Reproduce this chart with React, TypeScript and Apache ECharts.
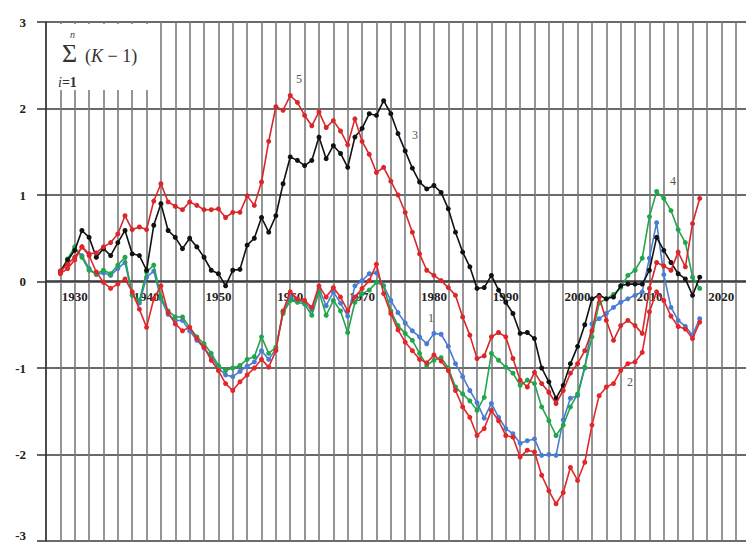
import React, { useEffect, useRef } from "react";
import * as echarts from "echarts";

const startYear = 1928;
const years: number[] = Array.from({ length: 90 }, (_, i) => startYear + i);

const s1Blue: number[] = [
  0.10, 0.22, 0.38, 0.30, 0.15, 0.08, 0.10, 0.07, 0.15, 0.22,
  -0.15, -0.25, 0.05, 0.12, -0.20, -0.38, -0.45, -0.45, -0.57, -0.68,
  -0.77, -0.87, -1.00, -1.08, -1.10, -1.04, -0.98, -0.93, -0.80, -0.90,
  -0.78, -0.35, -0.18, -0.22, -0.24, -0.33, -0.08, -0.28, -0.12, -0.25,
  -0.40, -0.05, 0.01, 0.09, 0.10, -0.05, -0.22, -0.36, -0.48, -0.57,
  -0.64, -0.72, -0.60, -0.61, -0.75, -0.95, -1.10, -1.26, -1.40, -1.58,
  -1.41, -1.57, -1.70, -1.76, -1.87, -1.84, -1.82, -2.01, -2.00, -2.01,
  -1.60, -1.35, -1.32, -1.00, -0.49, -0.43, -0.37, -0.30, -0.24, -0.20,
  -0.16, -0.12, 0.27, 0.68, 0.08, -0.30, -0.45, -0.52, -0.62, -0.43,
];

const s2Red: number[] = [
  0.09, 0.15, 0.25, 0.40, 0.30, 0.11, -0.01, -0.08, -0.03, 0.03,
  -0.12, -0.32, -0.53, -0.20, -0.05, -0.36, -0.49, -0.57, -0.53, -0.66,
  -0.76, -0.91, -1.03, -1.18, -1.26, -1.16, -1.08, -1.00, -0.90, -0.99,
  -0.80, -0.34, -0.12, -0.20, -0.22, -0.30, -0.05, -0.18, -0.07, -0.18,
  -0.34, -0.18, -0.08, 0.01, 0.20, -0.14, -0.37, -0.56, -0.70, -0.80,
  -0.90, -0.94, -0.85, -0.92, -1.03, -1.26, -1.45, -1.57, -1.78, -1.70,
  -1.49, -1.61, -1.78, -1.80, -2.03, -1.95, -1.97, -2.24, -2.42, -2.57,
  -2.44, -2.15, -2.30, -2.09, -1.66, -1.32, -1.22, -1.18, -1.03, -0.95,
  -0.93, -0.82, -0.35, -0.12, -0.22, -0.40, -0.52, -0.55, -0.66, -0.47,
];

const s3Black: number[] = [
  0.12, 0.25, 0.36, 0.59, 0.51, 0.28, 0.38, 0.30, 0.45, 0.59,
  0.32, 0.30, 0.13, 0.65, 0.90, 0.59, 0.51, 0.38, 0.50, 0.40,
  0.28, 0.13, 0.09, -0.05, 0.13, 0.14, 0.42, 0.50, 0.74, 0.57,
  0.76, 1.13, 1.44, 1.40, 1.34, 1.40, 1.67, 1.42, 1.57, 1.48,
  1.32, 1.67, 1.77, 1.94, 1.92, 2.09, 1.94, 1.71, 1.51, 1.31,
  1.15, 1.07, 1.11, 1.03, 0.84, 0.57, 0.34, 0.17, -0.08, -0.07,
  0.07, -0.10, -0.24, -0.37, -0.60, -0.59, -0.66, -1.00, -1.16, -1.35,
  -1.20, -0.95, -0.75, -0.50, -0.20, -0.16, -0.20, -0.18, -0.05, -0.03,
  -0.03, -0.03, 0.13, 0.51, 0.36, 0.22, 0.09, 0.03, -0.16, 0.05,
];

const s4Green: number[] = [
  0.10, 0.26, 0.40, 0.28, 0.13, 0.09, 0.13, 0.09, 0.19, 0.28,
  -0.16, -0.22, 0.11, 0.19, -0.18, -0.34, -0.41, -0.41, -0.53, -0.64,
  -0.72, -0.83, -0.97, -1.03, -1.00, -0.97, -0.90, -0.87, -0.64, -0.83,
  -0.76, -0.37, -0.22, -0.24, -0.26, -0.39, -0.12, -0.39, -0.22, -0.34,
  -0.59, -0.24, -0.14, -0.10, -0.01, -0.05, -0.34, -0.51, -0.60, -0.68,
  -0.83, -0.97, -0.91, -0.88, -1.00, -1.22, -1.30, -1.38, -1.49, -1.34,
  -0.83, -0.91, -0.99, -1.06, -1.20, -1.14, -1.18, -1.45, -1.61, -1.78,
  -1.66, -1.45, -1.30, -0.99, -0.64, -0.25, -0.20, -0.15, -0.07, 0.07,
  0.13, 0.27, 0.75, 1.04, 0.96, 0.82, 0.60, 0.45, 0.05, -0.08,
];

const s5Red: number[] = [
  0.12, 0.20, 0.28, 0.40, 0.32, 0.33, 0.40, 0.45, 0.55, 0.76,
  0.60, 0.63, 0.60, 0.93, 1.13, 0.92, 0.87, 0.83, 0.92, 0.88,
  0.83, 0.83, 0.84, 0.74, 0.80, 0.80, 0.99, 0.88, 1.15, 1.62,
  2.02, 1.98, 2.15, 2.07, 1.92, 1.80, 1.96, 1.78, 1.86, 1.74,
  1.58, 1.88, 1.62, 1.47, 1.26, 1.32, 1.16, 1.00, 0.80, 0.57,
  0.32, 0.13, 0.07, 0.01, -0.07, -0.16, -0.41, -0.62, -0.89, -0.86,
  -0.64, -0.59, -0.64, -0.89, -1.14, -1.22, -1.05, -1.18, -1.28, -1.41,
  -1.26, -1.06, -0.95, -0.80, -0.57, -0.18, -0.45, -0.68, -0.51, -0.45,
  -0.51, -0.60, -0.08, 0.22, 0.18, 0.13, 0.34, 0.17, 0.67, 0.96,
];

const yTicks = [-3, -2, -1, 0, 1, 2, 3];
const seriesLabels = ["1", "2", "3", "4", "5"];

const SERIF = "'Liberation Serif', 'DejaVu Serif', serif";

function mk(name: string, vals: number[], color: string, z: number) {
  return {
    name,
    type: "line",
    data: vals.map((v, i) => [years[i], v]),
    symbol: "circle",
    symbolSize: 5,
    lineStyle: { color, width: 1.6 },
    itemStyle: { color },
    z,
  };
}

export default function App() {
  const ref = useRef<HTMLDivElement>(null);
  useEffect(() => {
    if (!ref.current) return;
    const chart = echarts.init(ref.current, undefined, { renderer: "svg" });
    chart.setOption({
      animation: false,
      backgroundColor: "#ffffff",
      grid: { left: 46, right: 0, top: 22, bottom: 3, containLabel: false, outerBoundsMode: "none" },
      xAxis: {
        type: "value",
        min: 1926,
        max: 2024,
        interval: 2,
        position: "bottom",
        offset: -260,
        axisLine: { show: true, onZero: false, lineStyle: { color: "#333", width: 1.5 } },
        axisTick: { show: false },
        axisLabel: {
          margin: 9,
          fontSize: 13,
          fontWeight: "bold",
          fontFamily: SERIF,
          color: "#222",
          formatter: (v: number) => (v % 10 === 0 && v > 1926 && v < 2024 ? String(v) : ""),
        },
        splitLine: { show: true, lineStyle: { color: "#7a7a7a", width: 1.6 } },
      },
      yAxis: {
        type: "value",
        min: yTicks[0],
        max: yTicks[yTicks.length - 1],
        interval: 1,
        axisLine: { show: true, onZero: false, lineStyle: { color: "#333", width: 1.5 } },
        axisTick: { show: true, length: 9, lineStyle: { color: "#333", width: 1.5 } },
        axisLabel: {
          margin: 20,
          fontSize: 13,
          fontWeight: "bold",
          fontFamily: SERIF,
          color: "#222",
          formatter: (v: number) => (v === yTicks[0] ? `{lo|${v}}` : String(v)),
          rich: {
            lo: { fontSize: 13, fontWeight: "bold", fontFamily: SERIF, color: "#222", padding: [0, 0, 12, 0] },
          },
        },
        splitLine: { show: true, lineStyle: { color: "#3a3a3a", width: 1.5 } },
      },
      series: [
        mk("1", s1Blue, "#4a7cd4", 3),
        mk("4", s4Green, "#22a64c", 4),
        mk("3", s3Black, "#111111", 5),
        mk("2", s2Red, "#e3262a", 6),
        mk("5", s5Red, "#d9262a", 7),
      ],
      graphic: [
        { type: "rect", shape: { x: 48, y: 24, width: 111, height: 66 }, style: { fill: "#ffffff" }, z: 10 },
        { type: "text", x: 70, y: 29, style: { text: "n", font: `italic 10px ${SERIF}`, fill: "#444" }, z: 11 },
        { type: "text", x: 62, y: 40, style: { text: "Σ", font: `26px ${SERIF}`, fill: "#333" }, z: 11 },
        {
          type: "text", x: 85, y: 47,
          style: {
            text: "{a|(}{b|K}{a| − 1)}",
            rich: {
              a: { font: `18px ${SERIF}`, fill: "#333" },
              b: { font: `italic 18px ${SERIF}`, fill: "#333" },
            },
          },
          z: 11,
        },
        {
          type: "text", x: 58, y: 75,
          style: {
            text: "{i|i}{a|=1}",
            rich: {
              i: { font: `italic 14px ${SERIF}`, fill: "#333" },
              a: { font: `bold 14px ${SERIF}`, fill: "#333" },
            },
          },
          z: 11,
        },
        { type: "text", x: 428, y: 312, style: { text: seriesLabels[0], font: `12px ${SERIF}`, fill: "#555" }, z: 11 },
        { type: "text", x: 627, y: 376, style: { text: seriesLabels[1], font: `12px ${SERIF}`, fill: "#555" }, z: 11 },
        { type: "text", x: 412, y: 129, style: { text: seriesLabels[2], font: `12px ${SERIF}`, fill: "#555" }, z: 11 },
        { type: "text", x: 670, y: 175, style: { text: seriesLabels[3], font: `12px ${SERIF}`, fill: "#555" }, z: 11 },
        { type: "text", x: 296, y: 73, style: { text: seriesLabels[4], font: `12px ${SERIF}`, fill: "#555" }, z: 11 },
      ],
    });
    return () => chart.dispose();
  }, []);
  return (
    <div style={{ position: "absolute", left: 0, top: 0, width: 746, height: 544, overflow: "hidden", background: "#fff" }}>
      <div ref={ref} style={{ width: 750, height: 544 }} />
    </div>
  );
}
